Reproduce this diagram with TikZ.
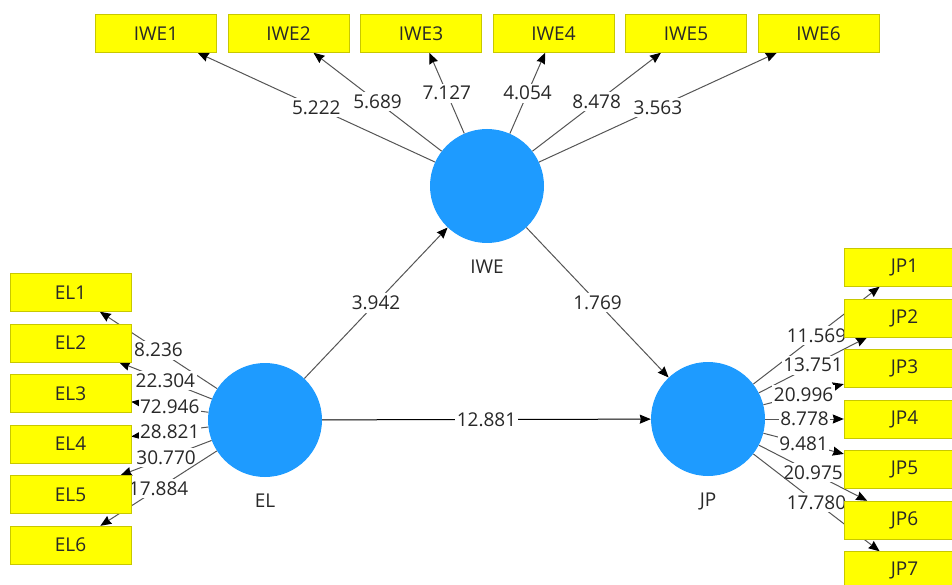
\documentclass[tikz,border=0pt]{standalone}
\usepackage{fontspec}
\setmainfont{Open Sans}
\usetikzlibrary{arrows.meta, backgrounds}
\definecolor{lvblue}{RGB}{30,155,255}
\definecolor{indyellow}{RGB}{255,255,0}
\definecolor{indborder}{RGB}{200,200,0}
\definecolor{pathgray}{RGB}{85,85,85}
\definecolor{txtdark}{RGB}{40,40,40}
\tikzstyle{latent} = [circle, minimum size=114pt, inner sep=0pt, fill=lvblue]
\tikzstyle{indicator} = [rectangle, minimum width=121pt, minimum height=38pt, text centered, draw=indborder, fill=indyellow, text=txtdark, font=\fontsize{19}{22}\selectfont]
\tikzstyle{arrow} = [draw=pathgray, line width=1pt, -{Stealth[length=11pt, width=9pt, inset=1pt, black]}]
\tikzstyle{value} = [fill=white, inner xsep=1.5pt, inner ysep=2.5pt, text=txtdark, font=\fontsize{19}{22}\selectfont]

\begin{document}
\begin{tikzpicture}[x=1pt, y=-1pt, node distance=50.5pt,
    every label/.style={text=txtdark, font=\fontsize{19}{22}\selectfont, yshift=-13pt}]
   \useasboundingbox (0,0) rectangle (952,585);

   % latent variables
   \node (IWE) [latent, label={below:IWE}] at (487,186) {};
   \node (EL) [latent, label={below:EL}] at (265,420) {};
   \node (JP) [latent, label={below:JP}] at (708,419) {};

   % IWE indicators
   \node (IWE1) [indicator] at (156,33.5) {IWE1};
   \node (IWE2) [indicator, right of=IWE1, xshift=82pt] {IWE2};
   \node (IWE3) [indicator, right of=IWE2, xshift=82pt] {IWE3};
   \node (IWE4) [indicator, right of=IWE3, xshift=82pt] {IWE4};
   \node (IWE5) [indicator, right of=IWE4, xshift=82pt] {IWE5};
   \node (IWE6) [indicator, right of=IWE5, xshift=82pt] {IWE6};

   % EL indicators
   \node (EL1) [indicator] at (70.5,292.5) {EL1};
   \node (EL2) [indicator, below of=EL1] {EL2};
   \node (EL3) [indicator, below of=EL2] {EL3};
   \node (EL4) [indicator, below of=EL3] {EL4};
   \node (EL5) [indicator, below of=EL4] {EL5};
   \node (EL6) [indicator, below of=EL5] {EL6};

   % JP indicators
   \node (JP1) [indicator] at (904.5,267.5) {JP1};
   \node (JP2) [indicator, below of=JP1] {JP2};
   \node (JP3) [indicator, below of=JP2] {JP3};
   \node (JP4) [indicator, below of=JP3] {JP4};
   \node (JP5) [indicator, below of=JP4] {JP5};
   \node (JP6) [indicator, below of=JP5] {JP6};
   \node (JP7) [indicator, below of=JP6] {JP7};

   \begin{pgfonlayer}{background}
   \draw [arrow] (IWE) -- node[value] {5.222} (IWE1);
   \draw [arrow] (IWE) -- node[value] {5.689} (IWE2);
   \draw [arrow] (IWE) -- node[value] {7.127} (IWE3);
   \draw [arrow] (IWE) -- node[value] {4.054} (IWE4);
   \draw [arrow] (IWE) -- node[value] {8.478} (IWE5);
   \draw [arrow] (IWE) -- node[value] {3.563} (IWE6);

   \draw [arrow] (EL) -- node[value] {8.236} (EL1);
   \draw [arrow] (EL) -- node[value] {22.304} (EL2);
   \draw [arrow] (EL) -- node[value] {72.946} (EL3);
   \draw [arrow] (EL) -- node[value] {28.821} (EL4);
   \draw [arrow] (EL) -- node[value] {30.770} (EL5);
   \draw [arrow] (EL) -- node[value] {17.884} (EL6);

   \draw [arrow] (JP) -- node[value] {11.569} (JP1);
   \draw [arrow] (JP) -- node[value] {13.751} (JP2);
   \draw [arrow] (JP) -- node[value] {20.996} (JP3);
   \draw [arrow] (JP) -- node[value] {8.778} (JP4);
   \draw [arrow] (JP) -- node[value] {9.481} (JP5);
   \draw [arrow] (JP) -- node[value] {20.975} (JP6);
   \draw [arrow] (JP) -- node[value] {17.780} (JP7);

   \draw [arrow] (EL) -- node[value] {3.942} (IWE);
   \draw [arrow] (IWE) -- node[value] {1.769} (JP);
   \draw [arrow, draw=black] (EL) -- node[value] {12.881} (JP);
   \end{pgfonlayer}
\end{tikzpicture}
\end{document}
